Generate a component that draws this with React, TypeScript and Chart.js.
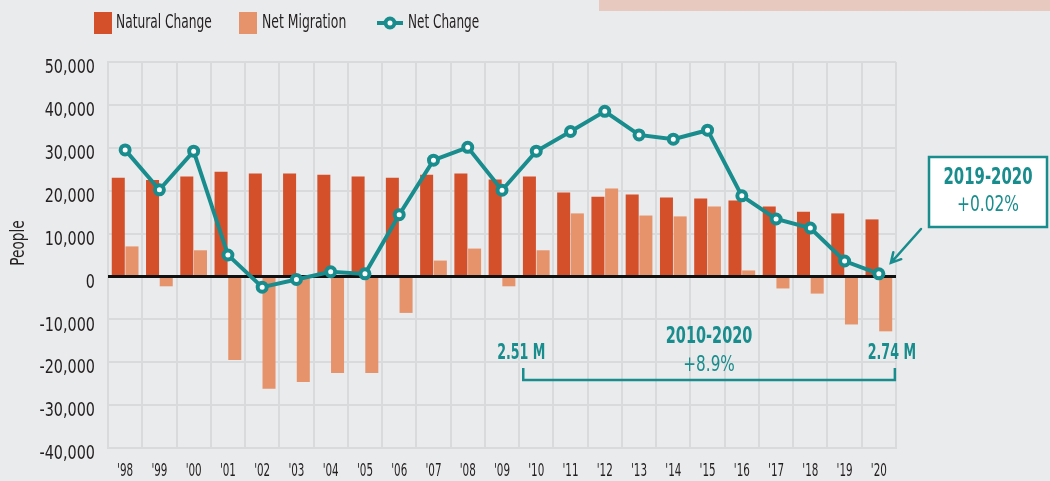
import React, { useEffect, useRef } from "react";
import { Chart, registerables } from "chart.js";

Chart.register(...registerables);

const years = ["'98", "'99", "'00", "'01", "'02", "'03", "'04", "'05", "'06", "'07", "'08", "'09", "'10", "'11", "'12", "'13", "'14", "'15", "'16", "'17", "'18", "'19", "'20"];
const naturalChange = [23000, 22500, 23300, 24400, 24000, 24000, 23700, 23300, 23000, 23700, 24000, 22600, 23300, 19600, 18600, 19100, 18400, 18200, 17700, 16300, 15100, 14700, 13300];
const netMigration = [7000, -2300, 6100, -19500, -26200, -24600, -22500, -22500, -8500, 3700, 6500, -2300, 6100, 14700, 20500, 14200, 14000, 16300, 1400, -2800, -4000, -11200, -12800];
const netChange = [29500, 20200, 29200, 5000, -2500, -700, 1100, 600, 14400, 27100, 30100, 20100, 29200, 33800, 38500, 33000, 32000, 34100, 18800, 13400, 11300, 3600, 600];

const seriesLabels = ["Natural Change", "Net Migration", "Net Change"];
const yMin = -40000;
const yMax = 50000;
const yStep = 10000;
const decadeLabel = "2010-2020";
const decadeChange = "+8.9%";
const startPop = "2.51 M";
const endPop = "2.74 M";
const yearLabel = "2019-2020";
const yearChange = "+0.02%";
const axisTitle = "People";

const C_NATURAL = "#d4502a";
const C_MIGR = "#e6926b";
const C_TEAL = "#198d8d";
const C_GRID = "#d9dadc";
const C_TEXT = "#231f20";
const BG = "#eaebed";
const FONT = "'DejaVu Sans Condensed', 'DejaVu Sans', sans-serif";

function drawText(ctx: CanvasRenderingContext2D, text: string, x: number, y: number, font: string, color: string, align: CanvasTextAlign, sx = 1) {
  ctx.save();
  ctx.font = font;
  ctx.fillStyle = color;
  ctx.textAlign = align;
  ctx.textBaseline = "middle";
  ctx.translate(x, y);
  ctx.scale(sx, 1);
  ctx.fillText(text, 0, 0);
  ctx.restore();
}

const overlayPlugin = {
  id: "overlay",
  beforeDraw(chart: any) {
    const ctx = chart.ctx as CanvasRenderingContext2D;
    ctx.save();
    ctx.fillStyle = "#e8c9bf";
    ctx.fillRect(599, 0, chart.width - 599, 11);
    ctx.restore();
  },
  beforeDatasetDraw(chart: any, args: any) {
    if (args.meta.type !== "line") return;
    const ctx = chart.ctx as CanvasRenderingContext2D;
    const y0 = chart.scales.y.getPixelForValue(0);
    ctx.save();
    ctx.strokeStyle = "#111111";
    ctx.lineWidth = 3;
    ctx.beginPath();
    ctx.moveTo(chart.chartArea.left, y0);
    ctx.lineTo(chart.chartArea.right, y0);
    ctx.stroke();
    ctx.restore();
  },
  afterDraw(chart: any) {
    const ctx = chart.ctx as CanvasRenderingContext2D;
    const xs = chart.scales.x;
    const ys = chart.scales.y;

    // axis tick labels (condensed), positioned from the library's scales
    ys.ticks.forEach((t: any, i: number) => {
      drawText(ctx, Number(t.value).toLocaleString("en-US"), 95, ys.getPixelForTick(i) + 6, `20px ${FONT}`, C_TEXT, "right", 0.8);
    });
    xs.ticks.forEach((t: any, i: number) => {
      drawText(ctx, String(xs.getLabelForValue(t.value)), xs.getPixelForTick(i), 471, `18px ${FONT}`, C_TEXT, "center", 0.64);
    });

    // legend
    const lf = `20px ${FONT}`;
    ctx.save();
    ctx.fillStyle = C_NATURAL;
    ctx.fillRect(94, 12, 18, 22);
    ctx.fillStyle = C_MIGR;
    ctx.fillRect(239, 12, 18, 22);
    ctx.strokeStyle = C_TEAL;
    ctx.lineWidth = 4;
    ctx.beginPath();
    ctx.moveTo(377, 23);
    ctx.lineTo(403, 23);
    ctx.stroke();
    ctx.beginPath();
    ctx.arc(390, 23, 4.5, 0, Math.PI * 2);
    ctx.fillStyle = "#ffffff";
    ctx.fill();
    ctx.stroke();
    ctx.restore();
    drawText(ctx, seriesLabels[0], 116, 23, lf, C_TEXT, "left", 0.68);
    drawText(ctx, seriesLabels[1], 262, 23, lf, C_TEXT, "left", 0.69);
    drawText(ctx, seriesLabels[2], 408, 23, lf, C_TEXT, "left", 0.67);

    // y title
    ctx.save();
    ctx.translate(19, 243);
    ctx.rotate(-Math.PI / 2);
    drawText(ctx, axisTitle, 0, 0, `20px ${FONT}`, C_TEXT, "center", 0.76);
    ctx.restore();

    // decade bracket
    const i10 = years.indexOf("'10");
    const i20 = years.length - 1;
    const bl = xs.getPixelForValue(i10) - 13;
    const br = xs.getPixelForValue(i20) + 16;
    const by = 380;
    ctx.save();
    ctx.strokeStyle = C_TEAL;
    ctx.lineWidth = 2.5;
    ctx.beginPath();
    ctx.moveTo(bl, by - 12);
    ctx.lineTo(bl, by);
    ctx.lineTo(br, by);
    ctx.lineTo(br, by - 12);
    ctx.stroke();
    ctx.restore();
    const bold = `bold 22px ${FONT}`;
    const bold23 = `bold 23px ${FONT}`;
    const reg = `22px ${FONT}`;
    drawText(ctx, startPop, bl - 2, 353, bold, C_TEAL, "center", 0.64);
    drawText(ctx, endPop, br - 3, 353, bold, C_TEAL, "center", 0.64);
    const bc = (bl + br) / 2;
    drawText(ctx, decadeLabel, bc, 337, bold23, C_TEAL, "center", 0.7);
    drawText(ctx, decadeChange, bc, 365, reg, C_TEAL, "center", 0.77);

    // callout box
    const bx1 = 929, bx2 = 1047, byt = 157, byb = 227;
    ctx.save();
    ctx.fillStyle = "#ffffff";
    ctx.fillRect(bx1, byt, bx2 - bx1, byb - byt);
    ctx.strokeStyle = C_TEAL;
    ctx.lineWidth = 2.5;
    ctx.strokeRect(bx1, byt, bx2 - bx1, byb - byt);
    ctx.restore();
    const cx = (bx1 + bx2) / 2;
    drawText(ctx, yearLabel, cx, 178, bold23, C_TEAL, "center", 0.72);
    drawText(ctx, yearChange, cx, 205, reg, C_TEAL, "center", 0.78);

    // arrow
    const px = xs.getPixelForValue(i20) + 12;
    const py = ys.getPixelForValue(netChange[i20]) - 11;
    const sx = 921, sy = 229;
    const ang = Math.atan2(py - sy, px - sx);
    const ah = 11;
    ctx.save();
    ctx.strokeStyle = C_TEAL;
    ctx.lineWidth = 2.5;
    ctx.lineCap = "round";
    ctx.beginPath();
    ctx.moveTo(sx, sy);
    ctx.lineTo(px, py);
    ctx.moveTo(px - ah * Math.cos(ang - 0.5), py - ah * Math.sin(ang - 0.5));
    ctx.lineTo(px, py);
    ctx.lineTo(px - ah * Math.cos(ang + 0.5), py - ah * Math.sin(ang + 0.5));
    ctx.stroke();
    ctx.restore();
  },
};

export default function App() {
  const canvasRef = useRef<HTMLCanvasElement | null>(null);

  useEffect(() => {
    if (!canvasRef.current) return;
    const chart = new Chart(canvasRef.current, {
      type: "bar",
      data: {
        labels: years,
        datasets: [
          {
            type: "line",
            label: seriesLabels[2],
            data: netChange,
            borderColor: C_TEAL,
            borderWidth: 4,
            pointRadius: 4.5,
            pointBorderWidth: 4,
            pointBackgroundColor: "#ffffff",
            pointBorderColor: C_TEAL,
            tension: 0,
            order: 0,
          } as any,
          {
            type: "bar",
            label: seriesLabels[0],
            data: naturalChange,
            backgroundColor: C_NATURAL,
            barPercentage: 0.95,
            categoryPercentage: 0.8,
            order: 1,
          },
          {
            type: "bar",
            label: seriesLabels[1],
            data: netMigration,
            backgroundColor: C_MIGR,
            barPercentage: 0.95,
            categoryPercentage: 0.8,
            order: 2,
          },
        ],
      },
      options: {
        responsive: false,
        animation: false,
        layout: { padding: { top: 62, right: 154, left: 0, bottom: 0 } },
        plugins: {
          legend: { display: false },
          tooltip: { enabled: false },
          title: { display: false },
        },
        scales: {
          x: {
            type: "category",
            grid: { offset: true, color: C_GRID, lineWidth: 2, drawTicks: false },
            border: { display: true, color: C_GRID, width: 2 },
            ticks: { display: false, autoSkip: false },
            afterFit: (s: any) => { s.height = 33; },
          },
          y: {
            min: yMin,
            max: yMax,
            grid: { color: C_GRID, lineWidth: 2, drawTicks: false },
            border: { display: true, color: C_GRID, width: 2 },
            ticks: { display: false, stepSize: yStep },
            afterFit: (s: any) => { s.width = 108; },
          },
        },
      },
      plugins: [overlayPlugin],
    });
    return () => chart.destroy();
  }, []);

  return (
    <div style={{ position: "fixed", left: 0, top: 0, width: 1050, height: 481, background: BG }}>
      <canvas ref={canvasRef} width={1050} height={481} style={{ display: "block" }} />
    </div>
  );
}
